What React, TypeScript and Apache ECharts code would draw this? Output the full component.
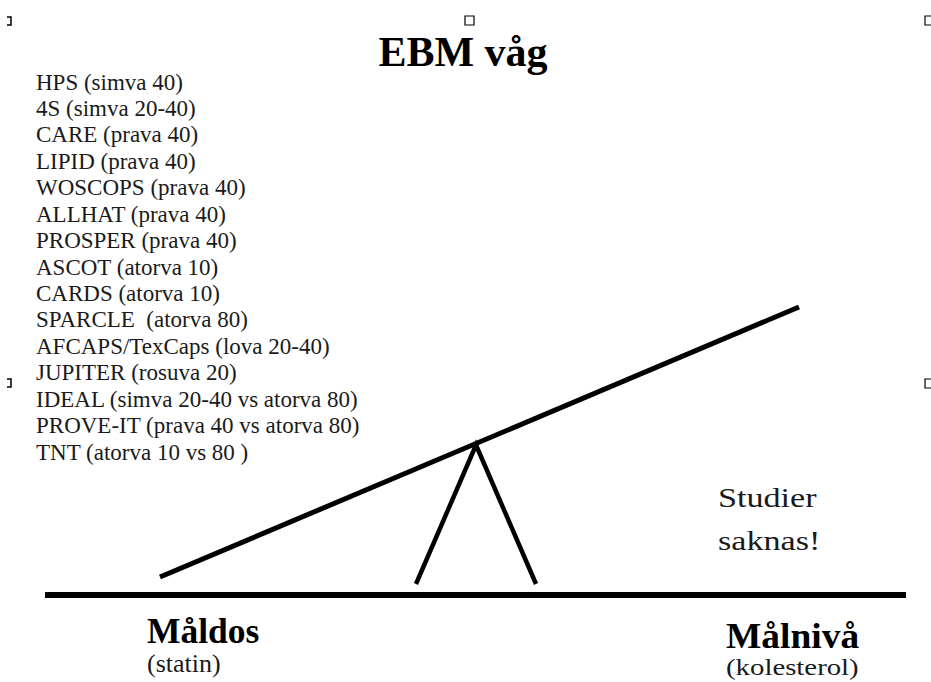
import React, { useEffect, useRef } from "react";
import * as echarts from "echarts";

const titleText = "EBM våg";
const studies = [
  "HPS (simva 40)",
  "4S (simva 20-40)",
  "CARE (prava 40)",
  "LIPID (prava 40)",
  "WOSCOPS (prava 40)",
  "ALLHAT (prava 40)",
  "PROSPER (prava 40)",
  "ASCOT (atorva 10)",
  "CARDS (atorva 10)",
  "SPARCLE  (atorva 80)",
  "AFCAPS/TexCaps (lova 20-40)",
  "JUPITER (rosuva 20)",
  "IDEAL (simva 20-40 vs atorva 80)",
  "PROVE-IT (prava 40 vs atorva 80)",
  "TNT (atorva 10 vs 80 )",
];
const missingText = ["Studier", "saknas!"];
const leftLabel = ["Måldos", "(statin)"];
const rightLabel = ["Målnivå", "(kolesterol)"];

// seesaw geometry in diagram units (x right, y down)
const beam = [
  [160, 577],
  [799, 307],
];
const fulcrum = [
  [416, 584],
  [476, 445],
  [536, 584],
];
const ground = [
  [45, 595],
  [906, 595],
];

const SERIF = "Liberation Serif";

export default function App() {
  const ref = useRef<HTMLDivElement>(null);
  useEffect(() => {
    document.body.style.margin = "0";
    const chart = echarts.init(ref.current!, null, { renderer: "svg" });
    const W = 931;
    const H = 682;
    const listX = 36;
    const listY0 = 82;
    const listStep = 26.43;
    const txt = (x: number, y: number, text: string, size: number, bold: boolean, color: string, scaleX = 1) => ({
      type: "text",
      x,
      y,
      scaleX,
      style: {
        text,
        fontFamily: SERIF,
        fontSize: size,
        fontWeight: bold ? "bold" : "normal",
        fill: color,
        align: "left",
        verticalAlign: "middle",
      },
    });
    const handle = (x: number, y: number) => ({
      type: "rect",
      shape: { x, y, width: 9, height: 9 },
      style: { fill: "#fff", stroke: "#000", lineWidth: 1.2 },
    });
    const leftHandle = (y: number) => ({
      type: "polyline",
      shape: { points: [[7, y], [11, y], [11, y + 8], [7, y + 8]] },
      style: { stroke: "#000", lineWidth: 1.5, fill: "none" },
    });
    const graphic: any[] = [
      {
        type: "text",
        x: 463,
        y: 52,
        style: {
          text: titleText,
          fontFamily: SERIF,
          fontSize: 42,
          fontWeight: "bold",
          fill: "#000",
          align: "center",
          verticalAlign: "middle",
        },
      },
      ...studies.map((s, i) => txt(listX, listY0 + i * listStep, s, 23, false, "#1a1a1a")),
      ...missingText.map((s, i) => txt(718, 498 + i * 43, s, 28, false, "#1a1a1a", 1.22)),
      txt(147, 631, leftLabel[0], 35.5, true, "#000"),
      txt(147, 664, leftLabel[1], 25, false, "#1a1a1a", 1.04),
      txt(726, 636, rightLabel[0], 35, true, "#000", 1.07),
      txt(726, 667, rightLabel[1], 24, false, "#1a1a1a", 1.2),
      // selection handles
      handle(465, 16),
      handle(925, 16),
      handle(925, 379),
      leftHandle(17),
      leftHandle(379),
    ];
    const lineSeries = (data: number[][], width: number) => ({
      type: "line",
      data,
      symbol: "none",
      silent: true,
      lineStyle: { color: "#000", width, cap: "butt", join: "miter" },
    });
    chart.setOption({
      animation: false,
      backgroundColor: "#fff",
      grid: { left: 0, right: 0, top: 0, bottom: 0 },
      xAxis: { type: "value", min: 0, max: W, show: false },
      yAxis: { type: "value", min: 0, max: H, inverse: true, show: false },
      series: [lineSeries(beam, 5), lineSeries(fulcrum, 4.5), lineSeries(ground, 6)],
      graphic,
    });
    return () => chart.dispose();
  }, []);
  return <div ref={ref} style={{ width: 931, height: 682 }} />;
}
